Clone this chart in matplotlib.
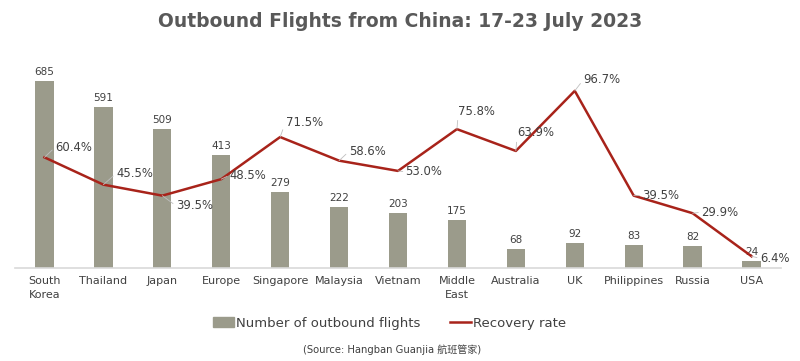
import numpy as np
import matplotlib.pyplot as plt
from matplotlib.patches import Patch
from matplotlib.lines import Line2D

plt.rcParams['font.family'] = ['DejaVu Sans', 'Noto Sans CJK SC']

# Data ........................................................................

countries = ["South\nKorea", "Thailand", "Japan", "Europe", "Singapore", "Malaysia",
             "Vietnam", "Middle\nEast", "Australia", "UK", "Philippines", "Russia", "USA"]
flights = [685, 591, 509, 413, 279, 222, 203, 175, 68, 92, 83, 82, 24]
recovery = [60.4, 45.5, 39.5, 48.5, 71.5, 58.6, 53.0, 75.8, 63.9, 96.7, 39.5, 29.9, 6.4]

# label offsets for the percentage labels (pixels)
pct_dx = [29, 31, 32, 27, 24, 28, 26, 20, 20, 27, 27, 27, 23]
pct_dy = [10, 11, -10, 4, 15, 9, -1, 18, 18, 11, 0, 1, -2]

bar_color = "#9b9b8b"
line_color = "#a8231a"
text_color = "#404040"

# Plot ........................................................................

fig = plt.figure(figsize=(8, 3.61), dpi=100)
ax = fig.add_axes([15 / 800, 93 / 361, 766 / 800, 196 / 361])
x = np.arange(len(countries))

ax.bar(x, flights, width=0.31, color=bar_color, zorder=2)
for xi, v in zip(x, flights):
    ax.annotate(str(v), (xi, v), xytext=(0, 4), textcoords="offset pixels",
                ha="center", va="bottom", fontsize=7.5, color=text_color)

ax.set_xlim(-0.5, len(countries) - 0.5)
ax.set_ylim(0, 718)
ax.set_yticks([])
ax.set_xticks(x)
ax.set_xticklabels(countries, fontsize=8, color=text_color, linespacing=1.45)
ax.tick_params(axis="x", length=0, pad=6)
for s in ["top", "right", "left"]:
    ax.spines[s].set_visible(False)
ax.spines["bottom"].set_color("#d9d9d9")
ax.spines["bottom"].set_linewidth(1.2)

ax2 = ax.twinx()
ax2.plot(x, recovery, color=line_color, lw=1.8, zorder=3)
ax2.set_ylim(0, 107)
ax2.set_yticks([])
for s in ["top", "right", "left", "bottom"]:
    ax2.spines[s].set_visible(False)

for xi, v, dx, dy in zip(x, recovery, pct_dx, pct_dy):
    ax2.annotate(f"{v:.1f}%", (xi, v), xytext=(dx, dy), textcoords="offset pixels",
                 ha="center", va="center", fontsize=8.4, color=text_color,
                 arrowprops=dict(arrowstyle="-", color="#bfbfbf", lw=0.6,
                                 shrinkA=0, shrinkB=0, relpos=(0, 0.5)))

fig.text(0.5, 0.94, "Outbound Flights from China: 17-23 July 2023", ha="center",
         va="center", fontsize=13.5, fontweight="bold", color="#595959")

handles = [Patch(color=bar_color), Line2D([0], [0], color=line_color, lw=1.8)]
fig.legend(handles, ["Number of outbound flights", "Recovery rate"], loc="center",
           bbox_to_anchor=(0.487, 0.105), ncol=2, frameon=False, fontsize=9.5,
           labelcolor=text_color, handlelength=1.6, handletextpad=0.2,
           columnspacing=2.2)

fig.text(0.49, 0.03, "(Source: Hangban Guanjia 航班管家)", ha="center", va="center",
         fontsize=7.2, color="#404040")

plt.savefig("out.png", dpi=100)
